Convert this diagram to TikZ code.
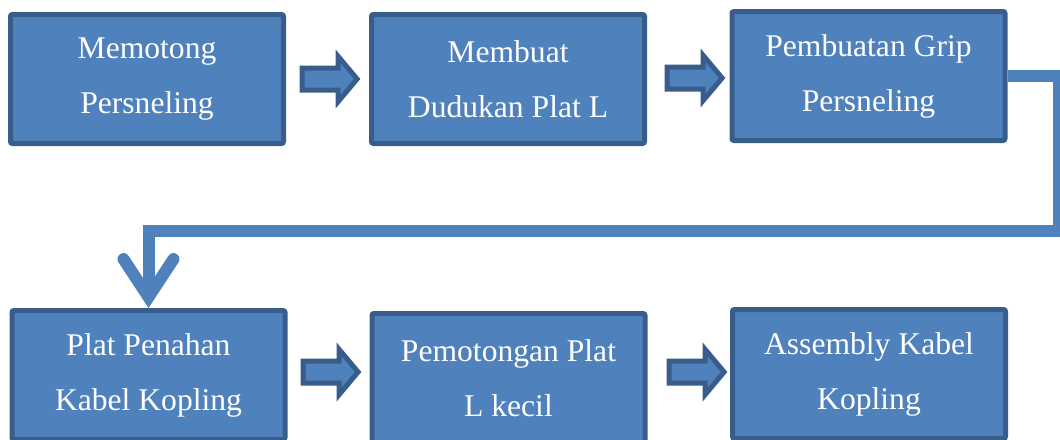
\documentclass[tikz,border=0pt]{standalone}
\usepackage{fontspec}
\setmainfont{Liberation Serif}
\usetikzlibrary{shapes.arrows,arrows.meta,calc}
\definecolor{birumuda}{HTML}{4F81BD}
\definecolor{birutua}{HTML}{385D8A}
\begin{document}
\begin{tikzpicture}[x=0.5pt,y=-0.5pt,
    kotak/.style={draw=birutua, fill=birumuda, line width=2.5pt, rounded corners=1pt,
        minimum width=136.5pt, minimum height=64.5pt, text=white, align=center,
        font=\fontsize{15.8}{27.5}\selectfont},
    panah/.style={single arrow, draw=birutua, fill=birumuda, line width=2.5pt,
        minimum height=27.5pt, inner sep=4.25pt, single arrow head extend=5.75pt,
        single arrow tip angle=100},
    alur/.style={draw=birumuda, line width=6pt}]
        \useasboundingbox (0,0) rectangle (1060,439);
        \clip (0,0) rectangle (1060,439);
        %% Top row
        \node[kotak] (potong) at (147,79) {Memotong\\Persneling};
        \node[kotak] (dudukan) at (508,79) {Membuat\\Dudukan Plat L};
        \node[kotak] (grip) at (868.5,76) {Pembuatan Grip\\Persneling};
        %% Bottom row
        \node[kotak] (penahan) at (148.5,375) {Plat Penahan\\Kabel Kopling};
        \node[kotak] (platL) at (508.5,378) {Pemotongan Plat\\L kecil};
        \node[kotak] (assembly) at (869,374) {Assembly Kabel\\Kopling};
        %% Block arrows
        \node[panah] (p1) at (325,79) {};
        \node[panah] (p2) at (690,78) {};
        \node[panah] (p3) at (326,372) {};
        \node[panah] (p4) at (692,372) {};
        %% From the top row down to the bottom row
        \draw[alur, -{Straight Barb[length=19pt, width=25pt, line cap=round, line join=miter]}]
            (grip.east) -- ++(51,0) |- ($(penahan.north)+(0,-77)$) -- (penahan.north);
    \end{tikzpicture}
\end{document}
